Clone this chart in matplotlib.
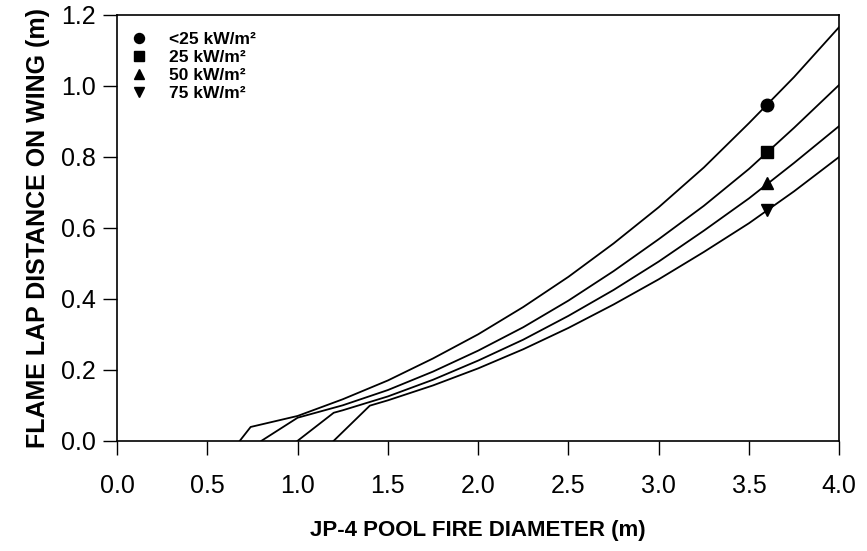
import numpy as np
import matplotlib
matplotlib.use('Agg')
import matplotlib.pyplot as plt

plt.rcParams['font.family'] = ['Liberation Sans', 'DejaVu Sans']

# flame lap curves (x = pool diameter, y = lap distance)
x_lt25 = [0.68, 0.74, 1.0, 1.25, 1.5, 1.75, 2.0, 2.25, 2.5, 2.75, 3.0, 3.25, 3.5, 3.75, 4.0]
y_lt25 = [0.0, 0.039, 0.070, 0.117, 0.170, 0.232, 0.300, 0.377, 0.462, 0.556, 0.658, 0.770, 0.895, 1.025, 1.166]

x_25 = [0.80, 1.0, 1.25, 1.5, 1.75, 2.0, 2.25, 2.5, 2.75, 3.0, 3.25, 3.5, 3.75, 4.0]
y_25 = [0.0, 0.065, 0.100, 0.143, 0.195, 0.254, 0.320, 0.395, 0.478, 0.568, 0.662, 0.766, 0.882, 1.003]

x_50 = [1.0, 1.2, 1.25, 1.5, 1.75, 2.0, 2.25, 2.5, 2.75, 3.0, 3.25, 3.5, 3.75, 4.0]
y_50 = [0.0, 0.079, 0.086, 0.125, 0.172, 0.226, 0.285, 0.352, 0.425, 0.505, 0.592, 0.683, 0.783, 0.887]

x_75 = [1.2, 1.4, 1.5, 1.75, 2.0, 2.25, 2.5, 2.75, 3.0, 3.25, 3.5, 3.75, 4.0]
y_75 = [0.0, 0.099, 0.114, 0.156, 0.204, 0.258, 0.318, 0.384, 0.455, 0.532, 0.613, 0.703, 0.800]

# symbols at D = 3.6 m
marker_x = 3.6
marker_y = [0.946, 0.815, 0.726, 0.649]
labels = ['<25 kW/m²', '25 kW/m²', '50 kW/m²', '75 kW/m²']
markers = ['o', 's', '^', 'v']

fig = plt.figure(figsize=(8.67, 5.51), dpi=100)
ax = fig.add_axes([0.135, 0.2, 0.833, 0.773])

for xs, ys in [(x_lt25, y_lt25), (x_25, y_25), (x_50, y_50), (x_75, y_75)]:
    ax.plot(xs, ys, color='black', lw=1.3)

for yv, lab, m in zip(marker_y, labels, markers):
    ax.plot(marker_x, yv, m, color='black', markersize=9, label=lab, linestyle='none')

ax.set_xlim(0, 4.0)
ax.set_ylim(0, 1.2)
ax.set_xticks(np.arange(0, 4.01, 0.5))
ax.set_yticks(np.arange(0, 1.21, 0.2))
ax.set_xticklabels([f'{v:.1f}' for v in np.arange(0, 4.01, 0.5)])
ax.set_yticklabels([f'{v:.1f}' for v in np.arange(0, 1.21, 0.2)])
ax.tick_params(axis='both', direction='out', length=10, width=1, labelsize=18)
ax.tick_params(axis='x', pad=14)
ax.tick_params(axis='y', pad=5)
for sp in ax.spines.values():
    sp.set_linewidth(1.2)

ax.set_xlabel('JP-4 POOL FIRE DIAMETER (m)', fontsize=16, fontweight='bold', labelpad=16)
ax.set_ylabel('FLAME LAP DISTANCE ON WING (m)', fontsize=18, fontweight='bold', labelpad=8)

leg = ax.legend(loc='upper left', bbox_to_anchor=(-0.005, 1.0), frameon=False,
                prop={'weight': 'bold', 'size': 12.5}, handletextpad=1.2,
                labelspacing=0.15, handlelength=1.0, borderpad=0.5, markerscale=0.8)

fig.savefig('out.png', dpi=100)
